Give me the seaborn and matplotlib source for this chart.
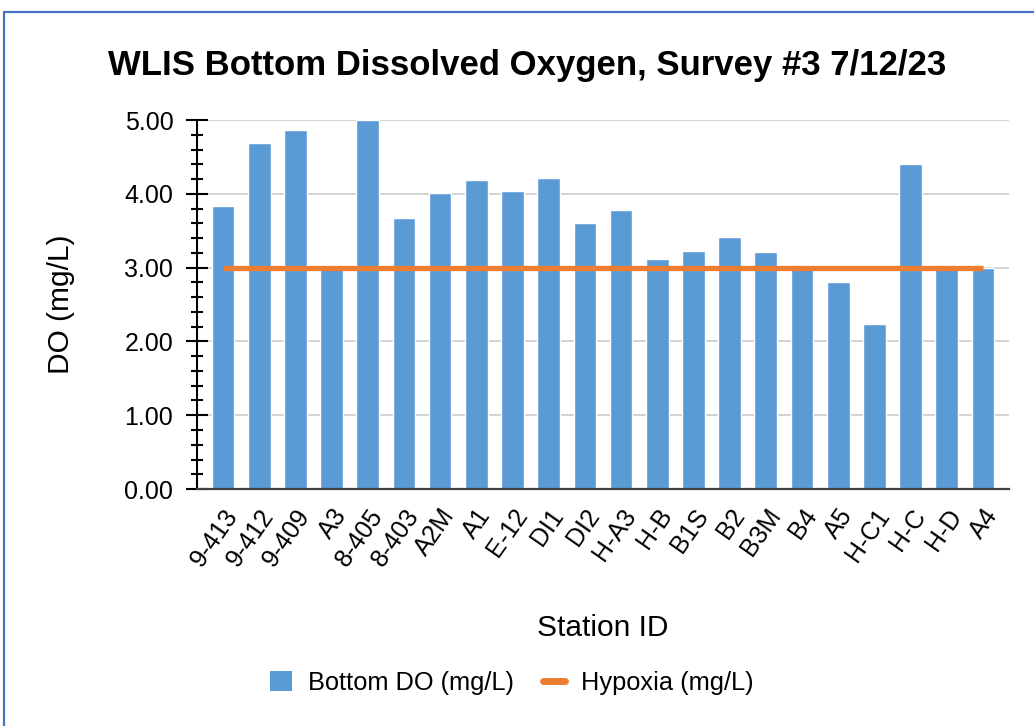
import matplotlib
matplotlib.use("Agg")
import matplotlib.pyplot as plt
from matplotlib.patches import Patch, Rectangle
from matplotlib.lines import Line2D
from matplotlib.ticker import MultipleLocator, FormatStrFormatter
import seaborn as sns
import pandas as pd

# Station data
stations = ["9-413", "9-412", "9-409", "A3", "8-405", "8-403", "A2M", "A1", "E-12", "DI1", "DI2",
            "H-A3", "H-B", "B1S", "B2", "B3M", "B4", "A5", "H-C1", "H-C", "H-D", "A4"]
bottom_do = [3.83, 4.69, 4.87, 3.00, 5.00, 3.67, 4.01, 4.19, 4.04, 4.22, 3.60,
             3.78, 3.12, 3.23, 3.41, 3.21, 3.00, 2.81, 2.24, 4.41, 3.00, 2.99]
hypoxia = [3.0, 3.0, 3.0, 3.0, 3.0, 3.0, 3.0, 3.0, 3.0, 3.0, 3.0,
           3.0, 3.0, 3.0, 3.0, 3.0, 3.0, 3.0, 3.0, 3.0, 3.0, 3.0]

BLUE = "#5B9BD5"
ORANGE = "#ED7D31"

df = pd.DataFrame({"station": stations, "do": bottom_do, "hypoxia": hypoxia})

sns.set_theme(style="white")
plt.rcParams["font.family"] = ["Liberation Sans", "DejaVu Sans"]
plt.rcParams["text.color"] = "black"
plt.rcParams["axes.labelcolor"] = "black"
plt.rcParams["xtick.color"] = "black"
plt.rcParams["ytick.color"] = "black"

fig = plt.figure(figsize=(10.34, 7.26), dpi=100)
ax = fig.add_axes([0.1905, 0.3264, 0.7853, 0.5083])

sns.barplot(data=df, x="station", y="do", color=BLUE, width=0.627, saturation=1, ax=ax)
ax.plot(range(len(stations)), df["hypoxia"], color=ORANGE, lw=3.8, solid_capstyle="butt", zorder=5)

ax.set_ylim(0, 5)
ax.set_xlim(-0.72, len(stations) - 1 + 0.72)
ax.yaxis.set_major_locator(MultipleLocator(1))
ax.yaxis.set_minor_locator(MultipleLocator(0.2))
ax.yaxis.set_major_formatter(FormatStrFormatter("%.2f"))
ax.grid(axis="y", which="major", color="#d0d0d0", lw=1.3, zorder=0)
ax.set_axisbelow(True)

ax.tick_params(axis="y", which="major", direction="inout", length=16, width=1.5,
               labelsize=18, pad=9, left=True)
ax.tick_params(axis="y", which="minor", direction="inout", length=8, width=1.5, left=True)
ax.tick_params(axis="x", which="both", length=0, labelsize=18, pad=11)
plt.setp(ax.get_xticklabels(), rotation=55, ha="right", rotation_mode="anchor")

for s in ["top", "right"]:
    ax.spines[s].set_visible(False)
ax.spines["left"].set_color("black")
ax.spines["left"].set_linewidth(1.5)
ax.spines["bottom"].set_color("#404040")
ax.spines["bottom"].set_linewidth(1.6)

ax.set_xlabel("Station ID", fontsize=21.5)
ax.set_ylabel("DO (mg/L)", fontsize=21.5)
ax.xaxis.set_label_coords((603 - 197) / 812, -(628 - 489) / 369, transform=ax.transAxes)
ax.yaxis.set_label_coords(-(197 - 61) / 812, 0.5, transform=ax.transAxes)
ax.xaxis.label.set_va("center")
ax.yaxis.label.set_va("center")

fig.text(527 / 1034, 1 - 65 / 726, "WLIS Bottom Dissolved Oxygen, Survey #3 7/12/23",
         ha="center", va="center", fontsize=25, fontweight="bold")

handles = [Patch(facecolor=BLUE, edgecolor="none", label="Bottom DO (mg/L)"),
           Line2D([0], [0], color=ORANGE, lw=5, label="Hypoxia (mg/L)")]
fig.legend(handles=handles, loc="center", bbox_to_anchor=(512 / 1034, 1 - 683 / 726), ncol=2,
           frameon=False, fontsize=18.3, handlelength=0.85, handleheight=0.85,
           handletextpad=0.63, columnspacing=1.15)

# outer frame
fig.patches.append(Rectangle((0.004, -0.01), 1.2, 0.9935, transform=fig.transFigure,
                             fill=False, edgecolor="#4472C4", lw=1.6))

fig.savefig("out.png", dpi=100)
